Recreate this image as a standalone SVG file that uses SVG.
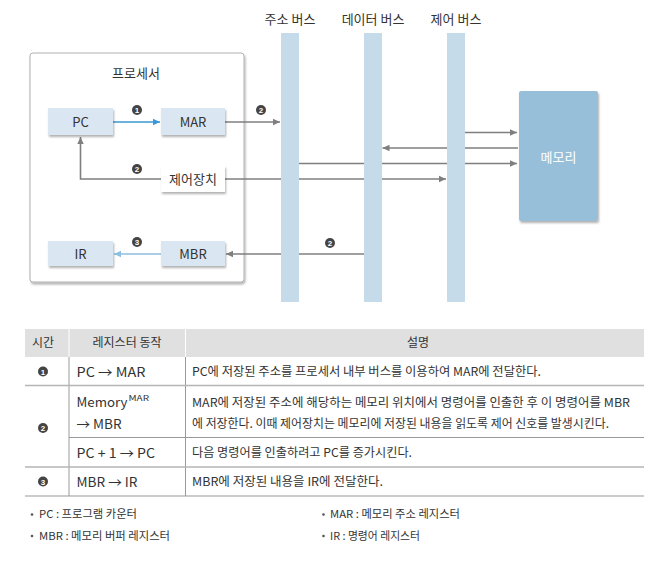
<svg xmlns="http://www.w3.org/2000/svg" width="663" height="563" viewBox="0 0 663 563">
  <style>
    text { font-family: "Noto Sans CJK KR", "Noto Sans", "Liberation Sans", sans-serif; fill: #333; }
    .lbl { font-size: 13px; text-anchor: middle; }
    .reg { fill: #dae6f1; filter: url(#sh); }
    .bus { fill: #c5dbe9; }
    .wire { stroke: #7f7f7f; stroke-width: 1.6; fill: none; }
    .num circle { fill: #444; }
    .num text { fill: #fff; font-size: 8px; font-weight: bold; text-anchor: middle; font-family: "Liberation Sans", sans-serif; }
    .cell { font-size: 13px; }
    .desc { font-size: 12px; }
    .hdr { font-size: 12px; text-anchor: middle; }
    .note { font-size: 11px; }
    .rowline { stroke: #b5b5b5; stroke-width: 1.6; }
    .subline { stroke: #999; stroke-width: 1; }
    .vline { stroke: #9a9a9a; stroke-width: 1; }
  </style>
  <defs>
    <filter id="sh" x="-20%" y="-20%" width="150%" height="150%">
      <feDropShadow dx="1" dy="2" stdDeviation="1.3" flood-color="#000" flood-opacity="0.3"/>
    </filter>
    <marker id="ag" markerUnits="userSpaceOnUse" markerWidth="8" markerHeight="8" refX="7" refY="4" orient="auto">
      <path d="M0,0.8 L7,4 L0,7.2 Z" fill="#7f7f7f"/>
    </marker>
    <marker id="ab" markerUnits="userSpaceOnUse" markerWidth="8" markerHeight="8" refX="7" refY="4" orient="auto">
      <path d="M0,0.8 L7,4 L0,7.2 Z" fill="#3b98d4"/>
    </marker>
    <marker id="al" markerUnits="userSpaceOnUse" markerWidth="8" markerHeight="8" refX="7" refY="4" orient="auto">
      <path d="M0,0.8 L7,4 L0,7.2 Z" fill="#8cbfe0"/>
    </marker>
  </defs>

  <!-- processor frame -->
  <g id="processor">
    <rect x="30" y="53" width="214" height="229" rx="3" fill="#fff" stroke="#b0b0b0" stroke-width="1" filter="url(#sh)"/>
    <text class="lbl" x="136" y="78">프로세서</text>
  </g>

  <!-- connectors (drawn beneath the bus bars) -->
  <g id="connectors">
    <line x1="113" y1="122" x2="160" y2="122" stroke="#3b98d4" stroke-width="1.6" marker-end="url(#ab)"/>
    <line class="wire" x1="225" y1="122" x2="280" y2="122" marker-end="url(#ag)"/>
    <polyline class="wire" points="161,179 80.5,179 80.5,137" marker-end="url(#ag)"/>
    <line class="wire" x1="225" y1="179" x2="446" y2="179" marker-end="url(#ag)"/>
    <line class="wire" x1="299" y1="163.5" x2="517" y2="163.5" marker-end="url(#ag)"/>
    <line class="wire" x1="518" y1="148" x2="382.5" y2="148" marker-end="url(#ag)"/>
    <line class="wire" x1="465" y1="132.5" x2="517" y2="132.5" marker-end="url(#ag)"/>
    <line class="wire" x1="364" y1="254" x2="226" y2="254" marker-end="url(#ag)"/>
    <line x1="161" y1="254" x2="114" y2="254" stroke="#8cbfe0" stroke-width="1.6" marker-end="url(#al)"/>
  </g>

  <!-- buses -->
  <g id="address-bus">
    <rect class="bus" x="281" y="33" width="18" height="269"/>
    <text class="lbl" x="290" y="24">주소 버스</text>
  </g>
  <g id="data-bus">
    <rect class="bus" x="364" y="33" width="18" height="269"/>
    <text class="lbl" x="373" y="24">데이터 버스</text>
  </g>
  <g id="control-bus">
    <rect class="bus" x="447" y="33" width="18" height="269"/>
    <text class="lbl" x="456" y="24">제어 버스</text>
  </g>

  <!-- registers and units -->
  <g id="pc">
    <rect class="reg" x="48" y="108" width="65" height="27"/>
    <text class="lbl" x="80.5" y="126.5">PC</text>
  </g>
  <g id="mar">
    <rect class="reg" x="161" y="108" width="64" height="27"/>
    <text class="lbl" x="193" y="126.5">MAR</text>
  </g>
  <g id="control-unit">
    <rect x="161" y="166" width="64" height="26" fill="#fff" filter="url(#sh)"/>
    <text class="lbl" x="193" y="184">제어장치</text>
  </g>
  <g id="ir">
    <rect class="reg" x="48" y="241" width="65" height="25"/>
    <text class="lbl" x="80.5" y="258.5">IR</text>
  </g>
  <g id="mbr">
    <rect class="reg" x="161" y="241" width="64" height="25"/>
    <text class="lbl" x="193" y="258.5">MBR</text>
  </g>
  <g id="memory">
    <rect x="519" y="91" width="79" height="130" rx="2" fill="#98bfda" filter="url(#sh)"/>
    <text class="lbl" x="558.5" y="161.5" style="fill:#fff">메모리</text>
  </g>

  <!-- step markers -->
  <g id="step-markers">
    <g class="num"><circle cx="137" cy="110" r="5"/><text x="137" y="113">1</text></g>
    <g class="num"><circle cx="261" cy="110" r="5"/><text x="261" y="113">2</text></g>
    <g class="num"><circle cx="137" cy="169" r="5"/><text x="137" y="172">2</text></g>
    <g class="num"><circle cx="137" cy="242" r="5"/><text x="137" y="245">3</text></g>
    <g class="num"><circle cx="330" cy="243" r="5"/><text x="330" y="246">2</text></g>
  </g>

  <!-- table -->
  <g id="table">
    <rect x="25" y="329" width="619" height="28" fill="#e0e0e0"/>
    <line x1="69" y1="329" x2="69" y2="357" stroke="#fff" stroke-width="1"/>
    <line x1="185.5" y1="329" x2="185.5" y2="357" stroke="#fff" stroke-width="1"/>
    <line class="vline" x1="69" y1="357" x2="69" y2="496"/>
    <line class="vline" x1="185.5" y1="357" x2="185.5" y2="496"/>
    <line class="rowline" x1="25" y1="385.5" x2="644" y2="385.5"/>
    <line class="subline" x1="69" y1="437.5" x2="644" y2="437.5"/>
    <line class="rowline" x1="25" y1="467" x2="644" y2="467"/>
    <line class="subline" x1="25" y1="496" x2="644" y2="496"/>

    <text class="hdr" x="43" y="347">시간</text>
    <text class="hdr" x="127" y="347">레지스터 동작</text>
    <text class="hdr" x="418" y="347">설명</text>

    <g class="num"><circle cx="43" cy="371.5" r="5"/><text x="43" y="374.5">1</text></g>
    <g class="num"><circle cx="43" cy="428" r="5"/><text x="43" y="431">2</text></g>
    <g class="num"><circle cx="43" cy="481.5" r="5"/><text x="43" y="484.5">3</text></g>

    <text class="cell" x="76.5" y="376.5" textLength="69" lengthAdjust="spacingAndGlyphs">PC → MAR</text>
    <text class="cell" x="76.5" y="407" textLength="51" lengthAdjust="spacingAndGlyphs">Memory</text>
    <text x="128.5" y="400.5" style="font-size:8px" textLength="20.5" lengthAdjust="spacingAndGlyphs">MAR</text>
    <text class="cell" x="76.5" y="428.5" textLength="45" lengthAdjust="spacingAndGlyphs">→ MBR</text>
    <text class="cell" x="76.5" y="457.5" textLength="78.5" lengthAdjust="spacingAndGlyphs">PC + 1 → PC</text>
    <text class="cell" x="76.5" y="486.5" textLength="61" lengthAdjust="spacingAndGlyphs">MBR → IR</text>

    <text class="desc" x="192" y="376" textLength="349" lengthAdjust="spacingAndGlyphs">PC에 저장된 주소를 프로세서 내부 버스를 이용하여 MAR에 전달한다.</text>
    <text class="desc" x="192" y="407" textLength="438" lengthAdjust="spacingAndGlyphs">MAR에 저장된 주소에 해당하는 메모리 위치에서 명령어를 인출한 후 이 명령어를 MBR</text>
    <text class="desc" x="192" y="428" textLength="417" lengthAdjust="spacingAndGlyphs">에 저장한다. 이때 제어장치는 메모리에 저장된 내용을 읽도록 제어 신호를 발생시킨다.</text>
    <text class="desc" x="192" y="457" textLength="220" lengthAdjust="spacingAndGlyphs">다음 명령어를 인출하려고 PC를 증가시킨다.</text>
    <text class="desc" x="192" y="486" textLength="191" lengthAdjust="spacingAndGlyphs">MBR에 저장된 내용을 IR에 전달한다.</text>
  </g>

  <!-- abbreviations -->
  <g id="legend">
    <circle cx="32" cy="514.5" r="1.3" fill="#555"/>
    <text class="note" x="39" y="518" textLength="98" lengthAdjust="spacingAndGlyphs">PC : 프로그램 카운터</text>
    <circle cx="32" cy="536" r="1.3" fill="#555"/>
    <text class="note" x="39" y="540" textLength="131" lengthAdjust="spacingAndGlyphs">MBR : 메모리 버퍼 레지스터</text>
    <circle cx="323.5" cy="514.5" r="1.3" fill="#555"/>
    <text class="note" x="330" y="518" textLength="130" lengthAdjust="spacingAndGlyphs">MAR : 메모리 주소 레지스터</text>
    <circle cx="323.5" cy="536" r="1.3" fill="#555"/>
    <text class="note" x="330" y="540" textLength="90" lengthAdjust="spacingAndGlyphs">IR : 명령어 레지스터</text>
  </g>
</svg>
